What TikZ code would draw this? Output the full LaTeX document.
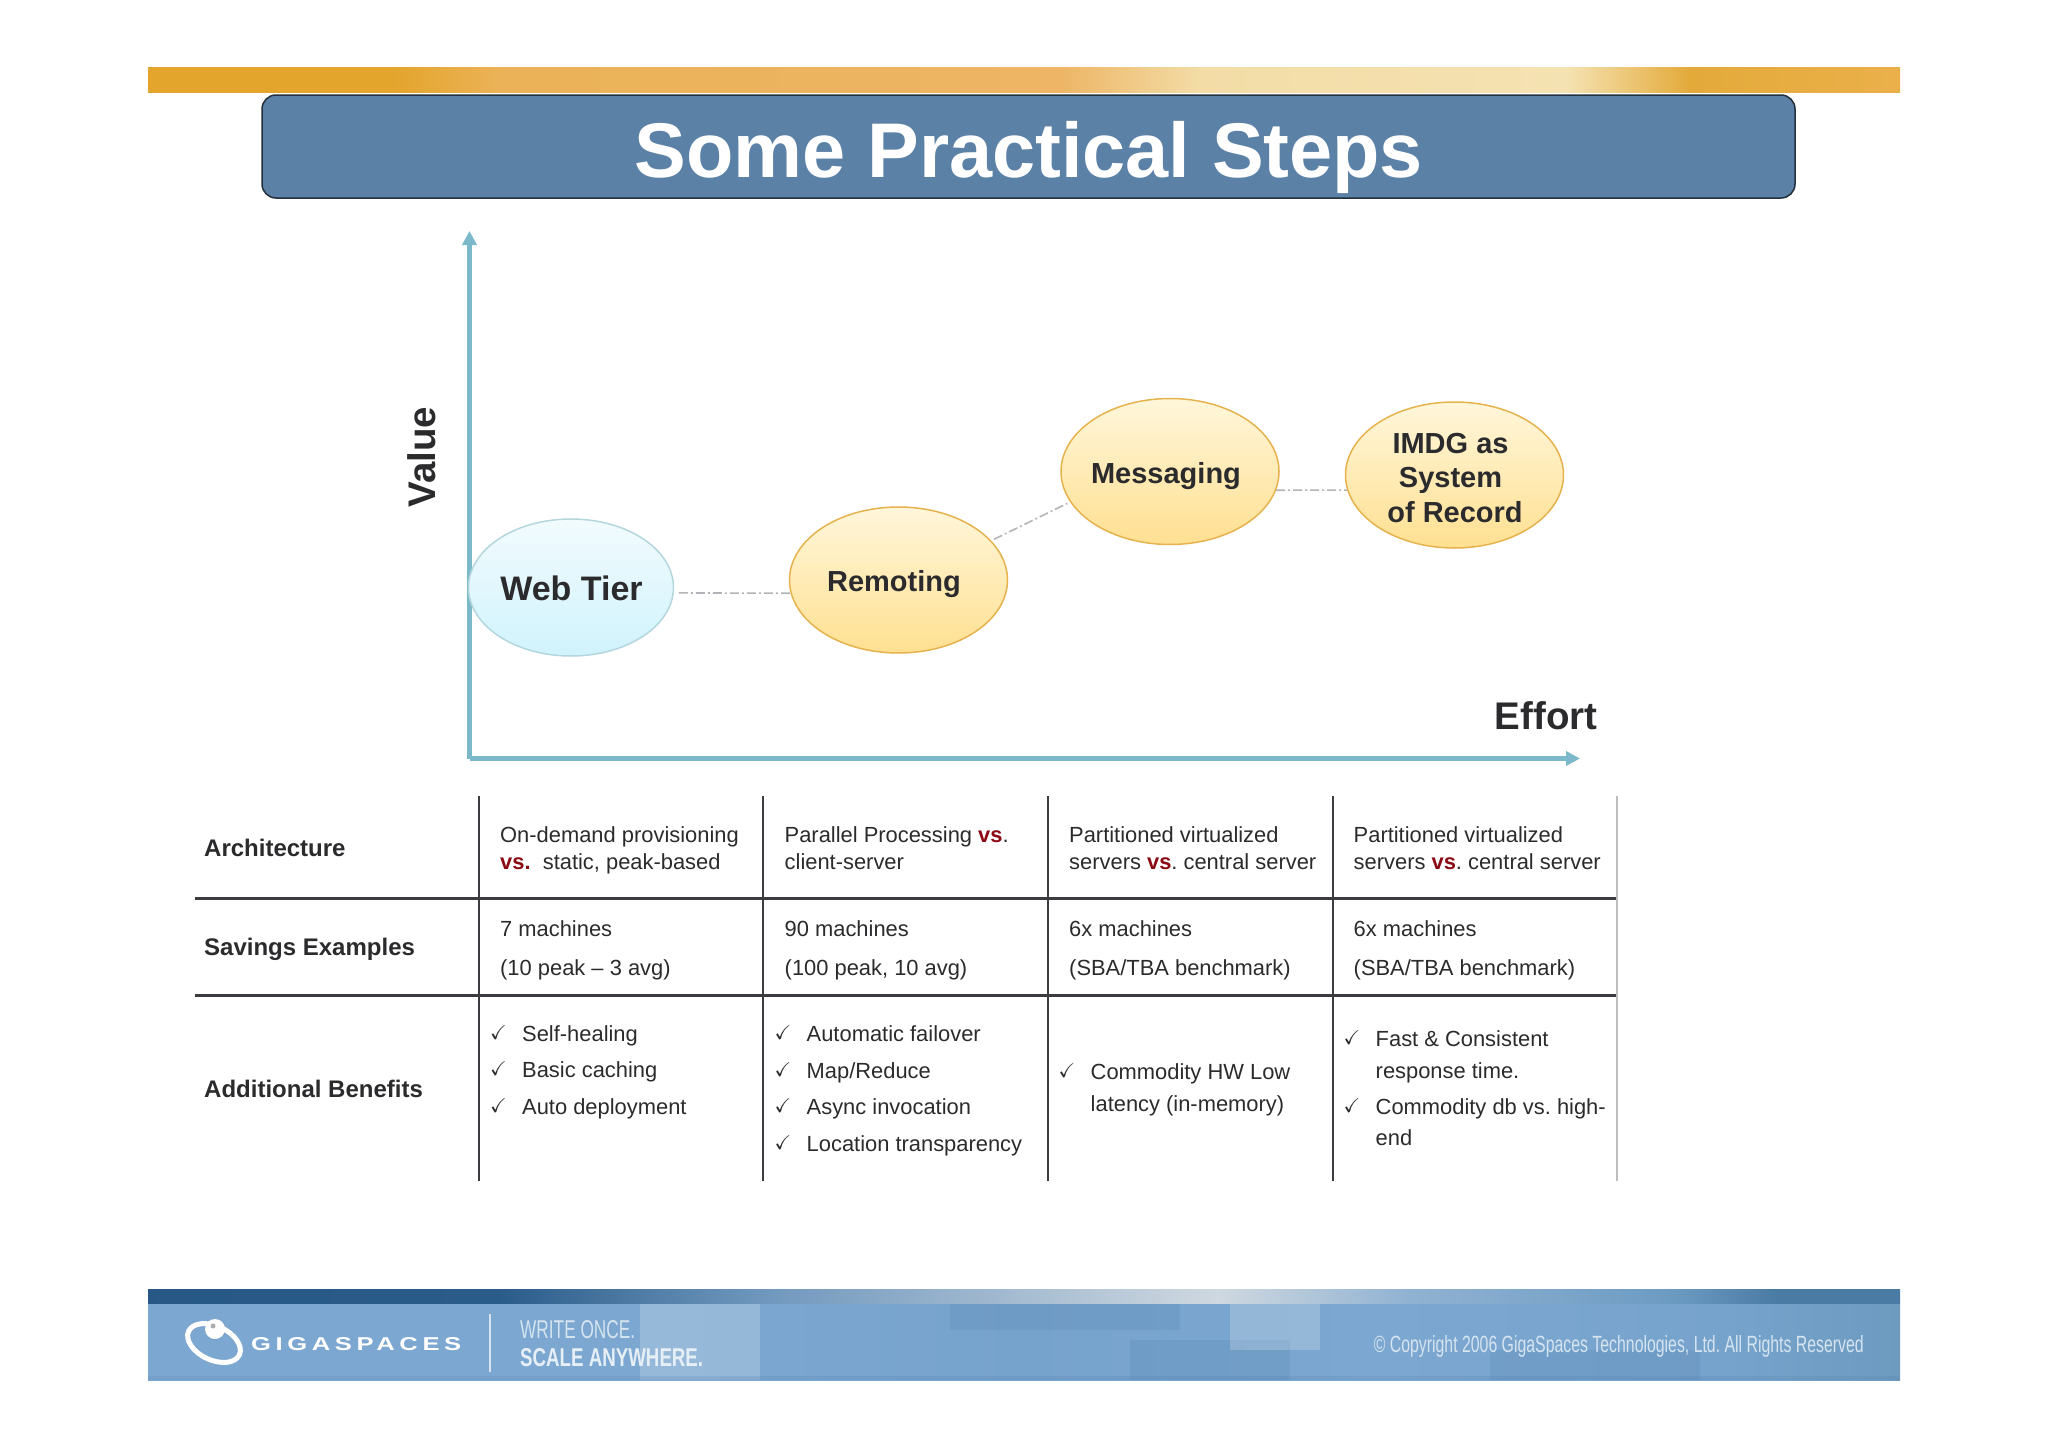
\documentclass[tikz,border=0pt]{standalone}
\usepackage{amsmath,amssymb}
\usepackage{graphicx}
\usepackage{fontspec}
\setmainfont{Liberation Sans}
\usepackage{tikz}
\usetikzlibrary{positioning,shapes.geometric,arrows.meta}
\definecolor{axisline}{HTML}{7BB9CA}
\definecolor{ink}{HTML}{2B2B2D}
\definecolor{rule}{HTML}{3C3C40}
\definecolor{ruleB}{HTML}{BDBDBD}
\definecolor{versus}{HTML}{8B0A14}
\definecolor{link}{HTML}{B4B4B8}
\definecolor{titlefill}{HTML}{5C81A6}
\definecolor{titleB}{HTML}{23303C}
\definecolor{ballB}{HTML}{E6B24E}
\definecolor{ballT}{HTML}{FFF6DA}
\definecolor{ballD}{HTML}{FFE092}
\definecolor{webB}{HTML}{B4D6DE}
\definecolor{webT}{HTML}{F2FBFE}
\definecolor{webD}{HTML}{D0F3FC}
\definecolor{footpale}{HTML}{D6E4F0}
\definecolor{goldA}{HTML}{E3A52C}
\definecolor{goldB}{HTML}{EBB257}
\definecolor{goldC}{HTML}{EDB565}
\definecolor{goldD}{HTML}{F3DCA6}
\definecolor{goldE}{HTML}{F5E2B2}
\definecolor{goldF}{HTML}{E3AA3A}
\definecolor{goldG}{HTML}{EBB04A}
\definecolor{bandA}{HTML}{1F4E7A}
\definecolor{bandB}{HTML}{2A5C8A}
\definecolor{bandC}{HTML}{6F97BD}
\definecolor{bandD}{HTML}{CFD8E0}
\definecolor{bandE}{HTML}{90B2D2}
\definecolor{bandF}{HTML}{6C9BC2}
\definecolor{bandG}{HTML}{4A7BA5}
\definecolor{bodyA}{HTML}{7CA7D0}
\definecolor{bodyB}{HTML}{76A3CC}
\definecolor{bodyC}{HTML}{6D9ABF}
\definecolor{blockD}{HTML}{4F7FAB}
\pgfdeclarehorizontalshading{goldbar}{100bp}{
  color(0bp)=(goldA);color(32bp)=(goldA);color(35bp)=(goldB);
  color(51bp)=(goldC);color(55bp)=(goldD);color(65.5bp)=(goldE);
  color(69bp)=(goldF);color(75bp)=(goldG);color(100bp)=(goldG)}
\pgfdeclarehorizontalshading{footband}{100bp}{
  color(0bp)=(bandA);color(35bp)=(bandB);color(42.5bp)=(bandC);
  color(55.5bp)=(bandD);color(61bp)=(bandE);
  color(68.5bp)=(bandF);color(71.5bp)=(bandG);color(100bp)=(bandG)}
\pgfdeclarehorizontalshading{footbody}{100bp}{
  color(0bp)=(bodyA);color(40bp)=(bodyA);color(50bp)=(bodyB);
  color(60bp)=(bodyA);color(70bp)=(bodyB);color(75bp)=(bodyC);color(100bp)=(bodyC)}
\newcommand{\tick}{\llap{\makebox[32pt][l]{\raisebox{2pt}{\fontsize{20}{20}\selectfont$\checkmark$}}}}
\newcommand{\vs}{\textcolor{versus}{\textbf{vs}}}
\frenchspacing

\begin{document}
\begin{tikzpicture}[x=1pt,y=-1pt,
    every node/.style={text=ink, inner sep=0pt},
    ball/.style={ellipse, draw=ballB, line width=1.5pt, top color=ballT, bottom color=ballD,
                 minimum width=218pt, minimum height=146pt},
    webball/.style={ellipse, draw=webB, line width=1.5pt, top color=webT, bottom color=webD,
                 minimum width=205pt, minimum height=137pt},
    balltext/.style={font=\fontsize{29}{34.6}\selectfont\bfseries, align=center},
    axislabel/.style={font=\fontsize{38.5}{40}\selectfont\bfseries},
    axisarrow/.style={-{Triangle[length=14pt,width=14pt]}, draw=axisline, line width=4.5pt},
    rel/.style={draw=link, line width=1.6pt, dash pattern=on 9pt off 3pt on 2pt off 3pt},
    rowhead/.style={anchor=west, font=\fontsize{24}{28}\selectfont\bfseries},
    cell/.style={anchor=west, align=left, font=\fontsize{21.9}{27}\selectfont},
    vrule/.style={draw=rule, line width=2.5pt},
    hrule/.style={draw=rule, line width=3pt},
    foot/.style={text=white, anchor=west},
    block/.style={fill=#1, opacity=0.2},
  ]
  \useasboundingbox (0,0) rectangle (2048,1448);

  % the header
  \shade[shading=goldbar] (148,67) rectangle (1900,92);
  \node[draw=titleB, fill=titlefill, rounded corners=14pt, line width=1.5pt,
        minimum width=1533pt, minimum height=103pt] (title) at (1028.5,146.5) {};
  \node[text=white, font=\fontsize{77.5}{80}\selectfont\bfseries] (titletext) at (1029,157) {Some Practical Steps};

  % the axes
  \coordinate (origin) at (469.5,758.5);
  \coordinate (valueend) at (469.5,231);
  \coordinate (effortend) at (1580,758.5);
  \draw[axisarrow] (origin) -- (valueend);
  \draw[axisarrow] (origin) -- (effortend);
  \node[axislabel, rotate=90] (value) at (422,457) {Value};
  \node[axislabel] (effort) at (1546,716) {Effort};

  % the steps
  \node[webball] (web) at (571,587.5) {};
  \node[ball] (remoting) at (898.5,580) {};
  \node[ball] (messaging) at (1170,471.5) {};
  \node[ball] (imdg) at (1454.5,475) {};
  \node[balltext, font=\fontsize{34}{36}\selectfont\bfseries] (webtext) at (571.5,588) {Web Tier};
  \node[balltext] (remotingtext) at (894,584) {Remoting};
  \node[balltext] (messagingtext) at (1166,476) {Messaging};
  \node[balltext] (imdgtext) at (1450.5,478) {IMDG as\\System\\\hspace*{9pt}of Record};

  \draw[rel, shorten <=5pt] (web.-3.5) -- (remoting.187.3);
  \draw[rel, shorten <=3pt, shorten >=3pt] (remoting.23) -- (messaging.197);
  \draw[rel] (messaging.-10.4) -- (imdg.188.6);

  % the table rules
  \coordinate (r0) at (195,898.5);
  \coordinate (r1) at (1617,898.5);
  \coordinate (s0) at (195,995);
  \coordinate (s1) at (1617,995);
  \draw[hrule] (r0) -- (r1);
  \draw[hrule] (s0) -- (s1);
  \draw[vrule] (479,796) coordinate (a0) -- (479,1181) coordinate (a1);
  \draw[vrule] (763,796) coordinate (b0) -- (763,1181) coordinate (b1);
  \draw[vrule] (1048,796) coordinate (c0) -- (1048,1181) coordinate (c1);
  \draw[vrule] (1333,796) coordinate (d0) -- (1333,1181) coordinate (d1);
  \draw[draw=ruleB, line width=2.5pt] (1617,796) coordinate (e0) -- (1617,1181) coordinate (e1);

  % row names
  \node[rowhead] (arch) at (204,848) {Architecture};
  \node[rowhead] (savings) at (204,949.5) {Savings Examples};
  \node[rowhead] (benefits) at (204,1088.5) {Additional Benefits};

  % architecture
  \node[cell] (arch1) at (500,850.5) {On-demand provisioning\\\textcolor{versus}{\textbf{vs.}}\ \ static, peak-based};
  \node[cell] (arch2) at (784.5,848.5) {Parallel Processing \vs.\\client-server};
  \node[cell] (arch3) at (1069,848.5) {Partitioned virtualized\\servers \vs. central server};
  \node[cell] (arch4) at (1353.5,848.5) {Partitioned virtualized\\servers \vs. central server};

  % savings
  \node[cell] (sav1) at (500,950.5) {7 machines\\[12pt](10 peak -- 3 avg)};
  \node[cell] (sav2) at (784.5,950.5) {90 machines\\[12pt](100 peak, 10 avg)};
  \node[cell] (sav3) at (1069,950.5) {6x machines\\[12pt](SBA/TBA benchmark)};
  \node[cell] (sav4) at (1353.5,950.5) {6x machines\\[12pt](SBA/TBA benchmark)};

  % benefits
  \node[cell] (ben1) at (522,1072) {\tick Self-healing\\[9.5pt]\tick Basic caching\\[9.5pt]\tick Auto deployment};
  \node[cell] (ben2) at (806.5,1091) {\tick Automatic failover\\[9.5pt]\tick Map/Reduce\\[9.5pt]\tick Async invocation\\[9.5pt]\tick Location transparency};
  \node[cell] (ben3) at (1090.5,1090) {\tick Commodity HW Low\\[5pt]latency (in-memory)};
  \node[cell] (ben4) at (1375.5,1088) {\tick Fast \& Consistent\\[5pt]response time.\\[9pt]\tick Commodity db vs. high-\\[4pt]end};

  % the footer
  \shade[shading=footbody] (148,1303) rectangle (1900,1380);
  \fill[block=white] (640,1303) rectangle (760,1380);
  \fill[block=blockD] (950,1303) rectangle (1180,1330);
  \fill[block=blockD] (1130,1340) rectangle (1290,1380);
  \fill[block=white] (1230,1303) rectangle (1320,1350);
  \fill[block=blockD] (1490,1350) rectangle (1700,1380);
  \fill[block=blockD] (148,1376) rectangle (1900,1380);
  \shade[shading=footband] (148,1289) rectangle (1900,1303);

  \draw[white, line width=5pt, rotate around={-25:(214,1343)}] (214,1343) ellipse [x radius=28, y radius=17];
  \fill[white] (215,1329) circle [radius=10];
  \fill[footpale!40!black!50] (213,1326) circle [radius=2.5];
  \node[foot] (company) at (251,1344)
        {\resizebox{210pt}{13pt}{\addfontfeature{LetterSpace=18}\bfseries GIGASPACES}};
  \coordinate (sep0) at (490,1314);
  \coordinate (sep1) at (490,1372);
  \draw[footpale, line width=1.5pt] (sep0) -- (sep1);
  \node[foot, text=footpale] (writeonce) at (520,1330)
        {\resizebox{115pt}{18pt}{WRITE ONCE.}};
  \node[foot, text=footpale!60!white] (scale) at (520,1358)
        {\resizebox{183pt}{18pt}{\bfseries SCALE ANYWHERE.}};
  \node[foot, text=footpale, anchor=east] (copyright) at (1864,1346)
        {\resizebox{490pt}{17pt}{\textcopyright{} Copyright 2006 GigaSpaces Technologies, Ltd. All Rights Reserved}};
\end{tikzpicture}
\end{document}
